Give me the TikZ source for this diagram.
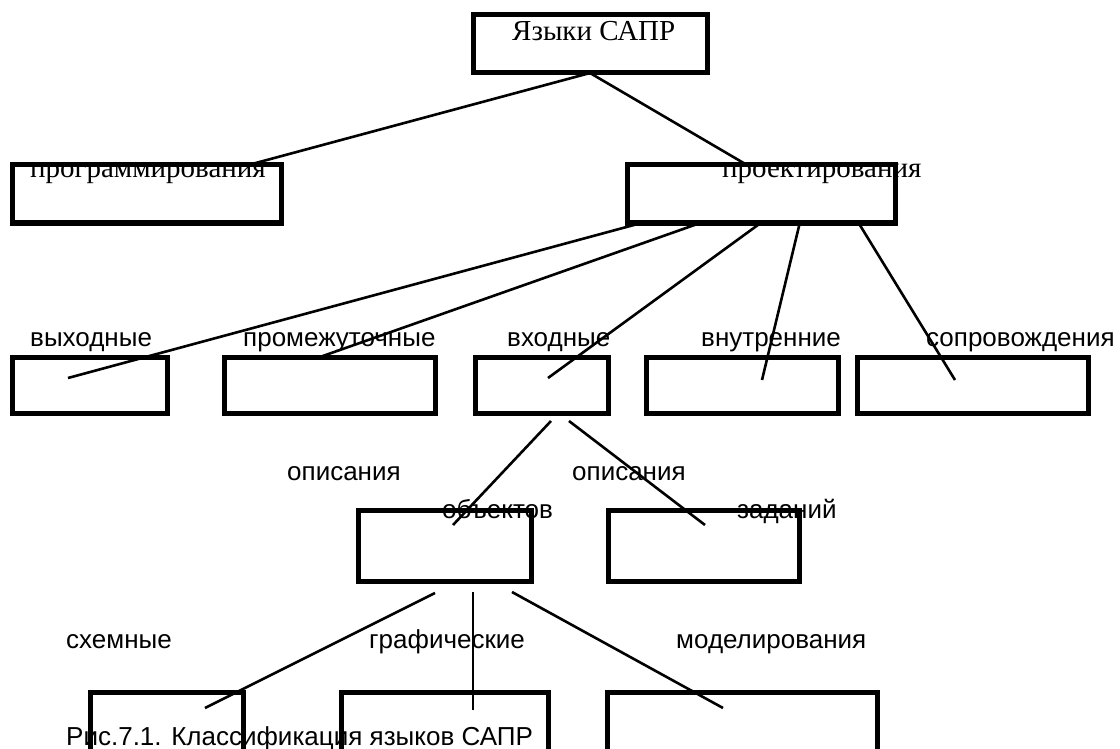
\documentclass[tikz,border=0pt]{standalone}
\usepackage{fontspec}
\setmainfont{Liberation Serif}
\newfontfamily\labelfont{Liberation Sans}
\begin{document}
\begin{tikzpicture}[x=1pt,y=-1pt,
  box/.style={draw, line width=5pt, inner sep=0pt, outer sep=0pt, anchor=north west},
  link/.style={line width=2.6pt},
  title/.style={font=\fontsize{29}{33}\selectfont, anchor=base west, inner sep=0pt},
  lab/.style={font=\labelfont\fontsize{26}{30}\selectfont, anchor=base west, inner sep=0pt}]
  \useasboundingbox (0,0) rectangle (1120,749);
  \fill[white] (0,0) rectangle (1120,749);
  \clip (0,0) rectangle (1120,749);

  % boxes: corner at the stroke centre, sizes between stroke centres
  \node[box, minimum width=234pt, minimum height=58pt] (top)  at (473,15) {};
  \node[box, minimum width=269pt, minimum height=58pt] (prog) at (12,165) {};
  \node[box, minimum width=268pt, minimum height=58pt] (proj) at (627,165) {};

  \node[box, minimum width=155pt, minimum height=56pt] (vyh)  at (12,357) {};
  \node[box, minimum width=211pt, minimum height=56pt] (prom) at (224,357) {};
  \node[box, minimum width=133pt, minimum height=56pt] (vhod) at (475,357) {};
  \node[box, minimum width=192pt, minimum height=56pt] (vnut) at (646,357) {};
  \node[box, minimum width=231pt, minimum height=56pt] (sopr) at (857,357) {};

  \node[box, minimum width=173pt, minimum height=71pt] (obj)  at (358,510) {};
  \node[box, minimum width=191pt, minimum height=71pt] (zad)  at (608,510) {};

  \node[box, minimum width=153pt, minimum height=90pt] (shem) at (90,692) {};
  \node[box, minimum width=207pt, minimum height=90pt] (graf) at (341,692) {};
  \node[box, minimum width=270pt, minimum height=90pt] (mod)  at (607,692) {};

  % texts
  \node[title] (t-top)  at (512,41)  {Языки САПР};
  \node[title] (t-prog) at (30,178)  {программирования};
  \node[title] (t-proj) at (722,178) {проектирования};

  \node[lab] (t-vyh)  at (30,346)  {выходные};
  \node[lab] (t-prom) at (243,346) {промежуточные};
  \node[lab] (t-vhod) at (507,346) {входные};
  \node[lab] (t-vnut) at (701,346) {внутренние};
  \node[lab] (t-sopr) at (926,346) {сопровождения};

  \node[lab] (t-op1) at (287,480) {описания};
  \node[lab] (t-op2) at (572,480) {описания};
  \node[lab] (t-obj) at (442,518) {объектов};
  \node[lab] (t-zad) at (737,518) {заданий};

  \node[lab] (t-shem) at (66,648)  {схемные};
  \node[lab] (t-graf) at (369,648) {графические};
  \node[lab] (t-mod)  at (676,648) {моделирования};

  \node[lab] (cap) at (66,745) {Рис.7.1. Классификация языков САПР};

  % connector ends
  \coordinate (prog-in) at (252,164);
  \coordinate (proj-in) at (747,165);

  \coordinate (proj-1) at (645,222);
  \coordinate (proj-2) at (703,222);
  \coordinate (proj-3) at (762,222);
  \coordinate (proj-4) at (800,222);
  \coordinate (proj-5) at (858,222);
  \coordinate (vyh-in)  at (68,378);
  \coordinate (prom-in) at (320,357);
  \coordinate (vhod-in) at (548,378);
  \coordinate (vnut-in) at (762,380);
  \coordinate (sopr-in) at (955,380);

  \coordinate (vhod-1) at (551,421);
  \coordinate (vhod-2) at (569,421);
  \coordinate (obj-in) at (453,525);
  \coordinate (zad-in) at (705,525);

  \coordinate (obj-1) at (435,593);
  \coordinate (obj-2) at (473,592);
  \coordinate (obj-3) at (512,592);
  \coordinate (shem-in) at (205,708);
  \coordinate (graf-in) at (473,710);
  \coordinate (mod-in)  at (723,708);

  % connectors
  \draw[link] (top.south) -- (prog-in);
  \draw[link] (top.south) -- (proj-in);
  \draw[link] (proj-1) -- (vyh-in);
  \draw[link] (proj-2) -- (prom-in);
  \draw[link] (proj-3) -- (vhod-in);
  \draw[link] (proj-4) -- (vnut-in);
  \draw[link] (proj-5) -- (sopr-in);
  \draw[link] (vhod-1) -- (obj-in);
  \draw[link] (vhod-2) -- (zad-in);
  \draw[link] (obj-1) -- (shem-in);
  \draw[link] (obj-2) -- (graf-in);
  \draw[link] (obj-3) -- (mod-in);
\end{tikzpicture}
\end{document}
